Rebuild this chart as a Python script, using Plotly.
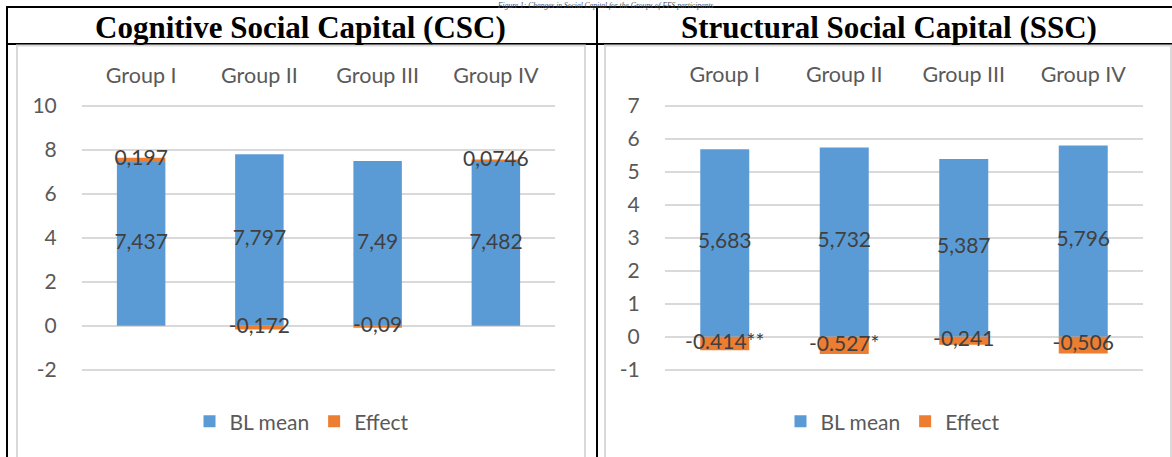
import plotly.graph_objects as go

# ---- data ----
groups = ["Group I", "Group II", "Group III", "Group IV"]

csc_bl = [7.437, 7.797, 7.49, 7.482]
csc_effect = [0.197, -0.172, -0.09, 0.0746]
csc_bl_labels = ["7,437", "7,797", "7,49", "7,482"]
csc_effect_labels = ["0,197", "-0,172", "-0,09", "0,0746"]
csc_ticks = [-2, 0, 2, 4, 6, 8, 10]

ssc_bl = [5.683, 5.732, 5.387, 5.796]
ssc_effect = [-0.414, -0.527, -0.241, -0.506]
ssc_bl_labels = ["5,683", "5,732", "5,387", "5,796"]
ssc_effect_labels = ["-0.414**", "-0.527*", "-0,241", "-0,506"]
ssc_ticks = [-1, 0, 1, 2, 3, 4, 5, 6, 7]

W, H = 1172, 457
BLUE, ORANGE = "#5b9bd5", "#ed7d31"
GRID = "#d9d9d9"
SANS = "Lato"
SERIF = "Liberation Serif"


def px_x(v):
    return v / W


def px_y(v):
    return 1 - v / H


def seg_mid(base, eff):
    """Vertical centre of each stacked segment (relative stacking)."""
    bl_mid = [b / 2 for b in base]
    eff_mid = [b + e / 2 if e >= 0 else e / 2 for b, e in zip(base, eff)]
    return bl_mid, eff_mid


fig = go.Figure()

panels = [
    ("x", "y", "legend", csc_bl, csc_effect, csc_bl_labels, csc_effect_labels),
    ("x2", "y2", "legend2", ssc_bl, ssc_effect, ssc_bl_labels, ssc_effect_labels),
]

for xa, ya, lg, bl, eff, bl_lab, eff_lab in panels:
    fig.add_trace(go.Bar(x=groups, y=bl, name="BL mean", marker=dict(color=BLUE, line=dict(width=0)),
                         xaxis=xa, yaxis=ya, legend=lg, hoverinfo="skip"))
    fig.add_trace(go.Bar(x=groups, y=eff, name="Effect", marker=dict(color=ORANGE, line=dict(width=0)),
                         xaxis=xa, yaxis=ya, legend=lg, hoverinfo="skip"))
    bl_mid, eff_mid = seg_mid(bl, eff)
    for ys, labs in ((bl_mid, bl_lab), (eff_mid, eff_lab)):
        fig.add_trace(go.Scatter(x=groups, y=ys, mode="text", text=labs,
                                 textfont=dict(family=SANS, size=21, color="#404040"),
                                 xaxis=xa, yaxis=ya, showlegend=False, hoverinfo="skip",
                                 cliponaxis=False))

xcommon = dict(type="category", side="top", showgrid=False, showline=False, zeroline=False,
               ticks="outside", ticklen=12, tickcolor="rgba(0,0,0,0)",
               tickfont=dict(family=SANS, size=21.5, color="#595959"), fixedrange=True)
ycommon = dict(showgrid=True, gridcolor=GRID, gridwidth=1.5, zeroline=False, showline=False,
               ticks="outside", ticklen=20, tickcolor="rgba(0,0,0,0)",
               tickfont=dict(family=SANS, size=21, color="#595959"), fixedrange=True)
legcommon = dict(orientation="h", xanchor="center", y=px_y(421.7), yanchor="middle",
                 font=dict(family=SANS, size=21, color="#595959"), bgcolor="rgba(0,0,0,0)")

fig.update_layout(
    width=W, height=H,
    margin=dict(l=0, r=0, t=0, b=0, autoexpand=False),
    paper_bgcolor="white", plot_bgcolor="rgba(0,0,0,0)",
    barmode="relative", bargap=0.59,
    xaxis=dict(domain=[px_x(82), px_x(555)], anchor="y", **xcommon),
    yaxis=dict(domain=[px_y(370.8), px_y(104.6)], range=[-2.05, 10.05], anchor="x",
               tickvals=csc_ticks, ticktext=[str(t) for t in csc_ticks], **ycommon),
    xaxis2=dict(domain=[px_x(665), px_x(1143)], anchor="y2", **xcommon),
    yaxis2=dict(domain=[px_y(371.35), px_y(104.05)], range=[-1.05, 7.05], anchor="x2",
                tickvals=ssc_ticks, ticktext=[str(t) for t in ssc_ticks], **ycommon),
    legend=dict(x=px_x(302), **legcommon),
    legend2=dict(x=px_x(893), **legcommon),
    showlegend=True,
)

# table rules and chart frames
shapes = []
black = dict(color="black", width=2)
shapes.append(dict(type="line", xref="paper", yref="paper", x0=px_x(6), x1=1.0, y0=px_y(7), y1=px_y(7), line=black, layer="below"))
shapes.append(dict(type="line", xref="paper", yref="paper", x0=px_x(6), x1=1.0, y0=px_y(44), y1=px_y(44), line=black, layer="below"))
shapes.append(dict(type="line", xref="paper", yref="paper", x0=px_x(7), x1=px_x(7), y0=px_y(6), y1=0, line=black, layer="below"))
shapes.append(dict(type="line", xref="paper", yref="paper", x0=px_x(597), x1=px_x(597), y0=px_y(6), y1=0, line=black, layer="below"))
for x0, x1 in ((17, 585), (605, 1171)):
    shapes.append(dict(type="rect", xref="paper", yref="paper", x0=px_x(x0), x1=px_x(x1),
                       y0=px_y(470), y1=px_y(45.5), fillcolor="white",
                       line=dict(color=GRID, width=2), layer="below"))
fig.update_layout(shapes=shapes)

annotations = [
    dict(text="<b>Cognitive Social Capital (CSC)</b>", x=px_x(300), y=px_y(28), xref="paper", yref="paper",
         xanchor="center", yanchor="middle", showarrow=False,
         font=dict(family=SERIF, size=31, color="black")),
    dict(text="<b>Structural Social Capital (SSC)</b>", x=px_x(889), y=px_y(28), xref="paper", yref="paper",
         xanchor="center", yanchor="middle", showarrow=False,
         font=dict(family=SERIF, size=31, color="black")),
    dict(text="<i>Figure 1: Changes in Social Capital for the Groups of FFS participants</i>",
         x=px_x(605), y=1, xref="paper", yref="paper", xanchor="center", yanchor="top",
         showarrow=False, borderpad=0, font=dict(family=SERIF, size=7.5, color="#44546a")),
]
fig.update_layout(annotations=annotations)

fig.write_html("out.html", config={"displayModeBar": False})
